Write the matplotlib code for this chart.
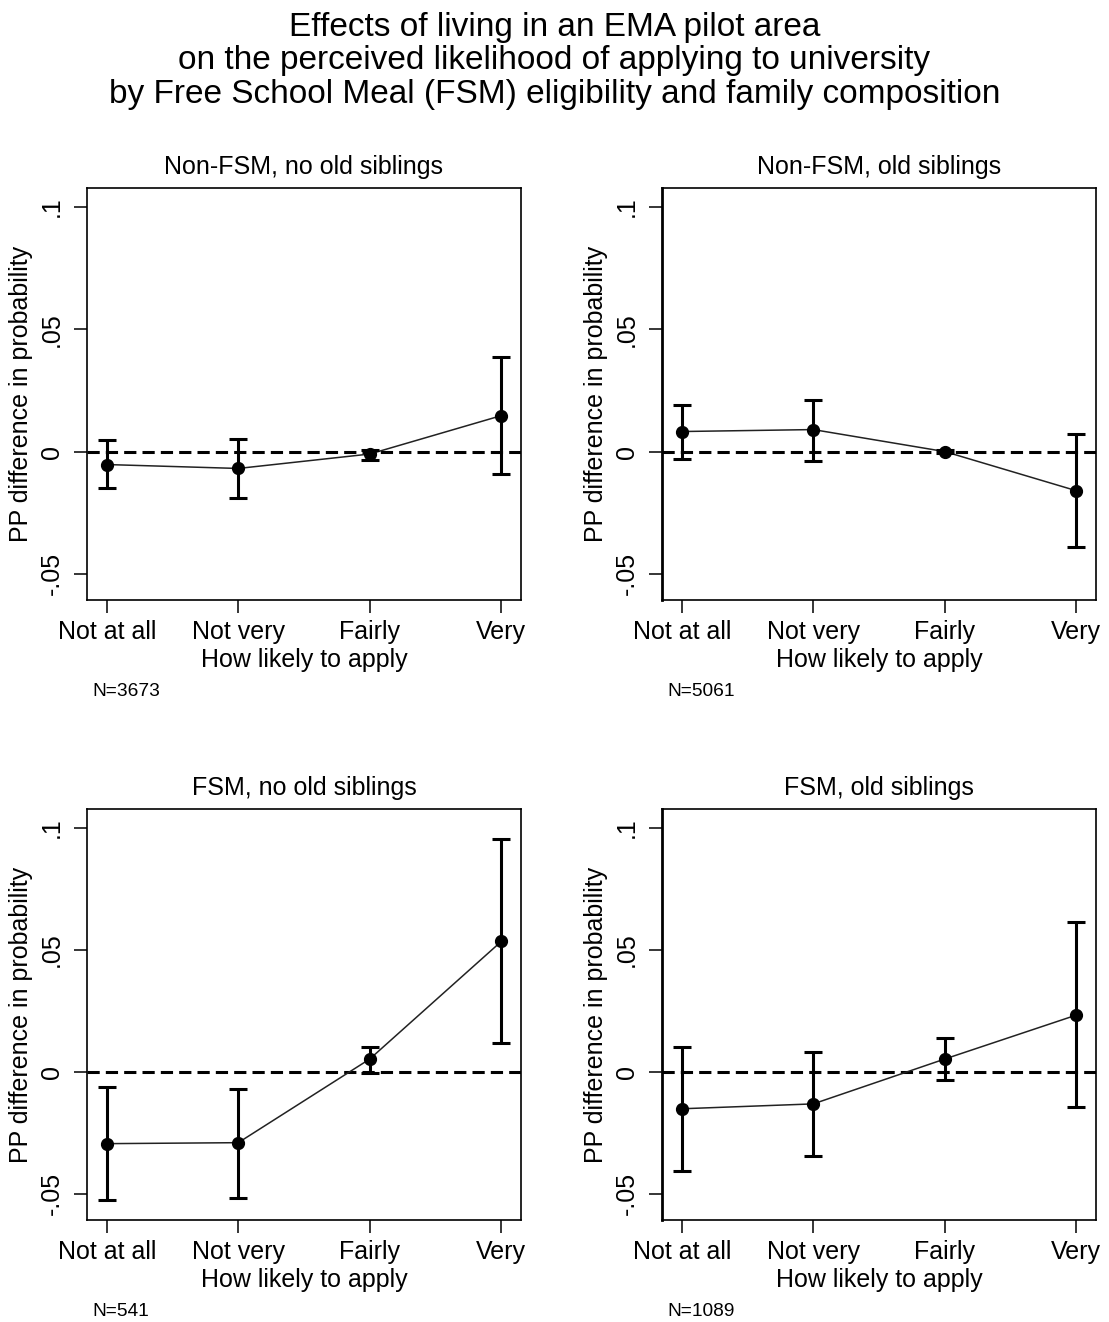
import matplotlib.pyplot as plt

plt.rcParams["font.family"] = ["Liberation Sans", "DejaVu Sans"]

categories = ["Not at all", "Not very", "Fairly", "Very"]
panel_titles = [
    "Non-FSM, no old siblings",
    "Non-FSM, old siblings",
    "FSM, no old siblings",
    "FSM, old siblings",
]
sample_sizes = ["N=3673", "N=5061", "N=541", "N=1089"]

# point estimates and 95% CI bounds, one list per panel
est_nonfsm_nosib = [-0.0053, -0.0069, -0.0010, 0.0147]
low_nonfsm_nosib = [-0.0147, -0.0188, -0.0033, -0.0090]
high_nonfsm_nosib = [0.0049, 0.0053, 0.0008, 0.0388]

est_nonfsm_sib = [0.0082, 0.0090, 0.0000, -0.0160]
low_nonfsm_sib = [-0.0030, -0.0040, -0.0005, -0.0390]
high_nonfsm_sib = [0.0190, 0.0212, 0.0005, 0.0070]

est_fsm_nosib = [-0.0294, -0.0290, 0.0053, 0.0535]
low_fsm_nosib = [-0.0523, -0.0515, -0.0003, 0.0119]
high_fsm_nosib = [-0.0061, -0.0069, 0.0102, 0.0957]

est_fsm_sib = [-0.0151, -0.0131, 0.0053, 0.0233]
low_fsm_sib = [-0.0405, -0.0343, -0.0033, -0.0143]
high_fsm_sib = [0.0102, 0.0082, 0.0139, 0.0613]

estimates = [est_nonfsm_nosib, est_nonfsm_sib, est_fsm_nosib, est_fsm_sib]
lows = [low_nonfsm_nosib, low_nonfsm_sib, low_fsm_nosib, low_fsm_sib]
highs = [high_nonfsm_nosib, high_nonfsm_sib, high_fsm_nosib, high_fsm_sib]

y_ticks = [-0.05, 0, 0.05, 0.1]
y_tick_labels = ["-.05", "0", ".05", ".1"]

W, H = 1109, 1322
fig = plt.figure(figsize=(W / 100, H / 100), dpi=100)

fig.text(
    0.5, 1 - 61 / H,
    "Effects of living in an EMA pilot area\n"
    "on the perceived likelihood of applying to university\n"
    "by Free School Meal (FSM) eligibility and family composition",
    ha="center", va="center", fontsize=24, linespacing=1.09,
)

# axes boxes in pixels: left, top, right, bottom
boxes = [
    (87, 188, 521, 600),
    (662, 188, 1096, 600),
    (87, 809, 521, 1220),
    (662, 809, 1096, 1220),
]

x = list(range(1, len(categories) + 1))
fs = 18

for i, (l, t, r, b) in enumerate(boxes):
    ax = fig.add_axes([l / W, 1 - b / H, (r - l) / W, (b - t) / H])
    est = estimates[i]
    yerr = [
        [e - lo for e, lo in zip(est, lows[i])],
        [hi - e for e, hi in zip(est, highs[i])],
    ]
    ax.axhline(0, color="black", linewidth=2.2, linestyle=(0, (4, 2)), zorder=1)
    ax.plot(x, est, color="#222222", linewidth=1.1, zorder=2)
    ax.errorbar(
        x, est, yerr=yerr, fmt="o", color="black", markersize=8.5,
        elinewidth=2.2, capsize=6.5, capthick=2.2, zorder=3,
    )
    ax.set_xlim(0.85, 4.15)
    ax.set_ylim(-0.0607, 0.1078)
    ax.set_xticks(x)
    ax.set_xticklabels(categories, fontsize=fs)
    ax.set_yticks(y_ticks)
    ax.set_yticklabels(y_tick_labels, fontsize=fs, rotation=90, va="center")
    ax.tick_params(length=9.5, width=1.1, pad=5)
    ax.tick_params(axis="y", pad=7)
    ax.set_xlabel("How likely to apply", fontsize=fs, labelpad=2.5)
    ax.set_ylabel("PP difference in probability", fontsize=fs, labelpad=5)
    ax.set_title(panel_titles[i], fontsize=fs, pad=10)
    for side in ax.spines.values():
        side.set_linewidth(1.2)
    if i % 2 == 1:
        ax.spines["left"].set_linewidth(2.0)
    fig.text((l + 5) / W, 1 - (b + 91) / H, sample_sizes[i],
             fontsize=13.8, ha="left", va="center")

fig.savefig("out.png", dpi=100)
